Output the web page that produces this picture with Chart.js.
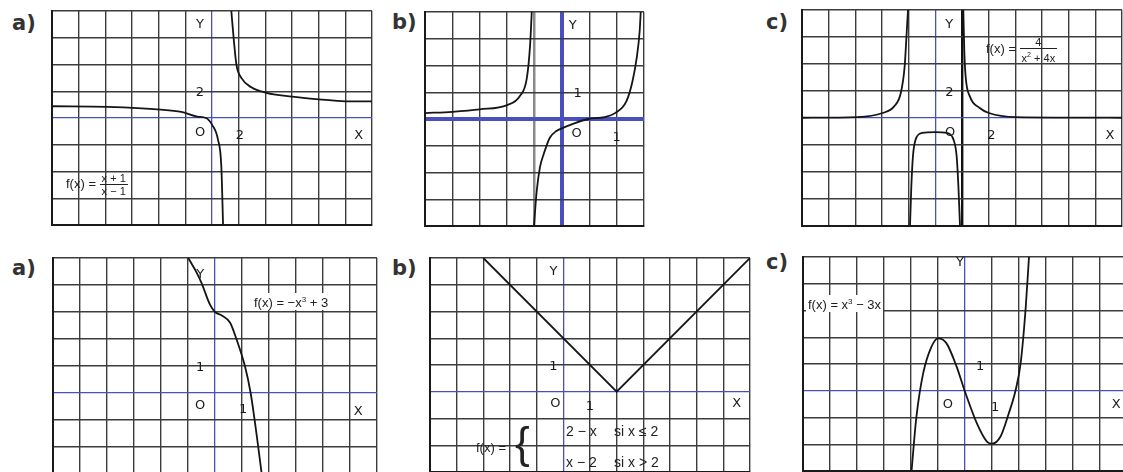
<!DOCTYPE html>
<html>
<head>
<meta charset="utf-8">
<script src="https://cdn.jsdelivr.net/npm/chart.js@4.4.1/dist/chart.umd.min.js"></script>
<style>
  html, body { margin: 0; padding: 0; background: #fff; }
  body { width: 1123px; height: 472px; overflow: hidden; position: relative; }
  canvas { position: absolute; }
  .tag { position: absolute; font-family: 'DejaVu Sans', sans-serif; font-size: 21px; font-weight: bold; color: #333; line-height: 21px; }
  .fx { position: absolute; font-family: 'Liberation Sans', sans-serif; font-size: 12px; color: #222; white-space: nowrap; line-height: 14px; }
  .bg { background: #fff; padding: 0 2px; }
  .frac { display: inline-block; vertical-align: middle; text-align: center; font-size: 11px; line-height: 12px; }
  .frac span { display: block; padding: 0 2px; }
  .frac .num { border-bottom: 1px solid #222; }
</style>
</head>
<body>
<div class="tag" style="left:12px; top:13px;">a)</div>
<div class="tag" style="left:392px; top:12px;">b)</div>
<div class="tag" style="left:766px; top:12px;">c)</div>
<div class="tag" style="left:12px; top:258px;">a)</div>
<div class="tag" style="left:392px; top:258px;">b)</div>
<div class="tag" style="left:766px; top:252px;">c)</div>

<script>
// ---- top a) f(x) = (x+1)/(x-1) ----
const taXAxis = [-12, 12, 2];
const taYAxis = [-8, 8, 2];
const taLeftX  = [-12, -7.85, -3.85, -2.3, -1.1, -0.45, 0, 0.45, 0.7, 0.83];
const taLeftY  = [0.88, 0.83, 0.63, 0.45, 0.1, 0, -0.5, -1.63, -3.63, -8];
const taRightX = [1.45, 1.63, 1.83, 2.2, 2.95, 4, 6, 8, 10, 12];
const taRightY = [8, 5.9, 4.0, 3.0, 2.3, 1.9, 1.6, 1.4, 1.25, 1.25];

// ---- top b) ----
const tbXAxis = [-2.5, 1.5, 0.5];
const tbYAxis = [-4, 4, 1];
const tbLeftX = [-2.5, -2, -1.5, -1, -0.77, -0.64, -0.58, -0.55];
const tbLeftY = [0.22, 0.27, 0.36, 0.52, 0.85, 1.53, 2.77, 4];
const tbMidX  = [-0.51, -0.46, -0.4, -0.33, -0.22, -0.1, 0.02, 0.18, 0.48, 0.78, 0.97, 1.18, 1.29, 1.37, 1.42, 1.44];
const tbMidY  = [-4, -2.7, -1.8, -1.3, -0.7, -0.45, -0.33, -0.2, 0, 0.07, 0.22, 0.67, 1.41, 2.33, 3.26, 4];

// ---- top c) f(x) = 4/(x^2+4x) ----
const tcXAxis = [-10, 14, 2];
const tcYAxis = [-8, 8, 2];
const tcLeftX  = [-10, -5.85, -3.95, -3.09, -2.59, -2.3, -2.15, -2.05];
const tcLeftY  = [0.02, 0.07, 0.37, 0.86, 1.85, 3.83, 6.3, 8];
const tcMidX   = [-1.9, -1.8, -1.68, -1.48, -0.99, 0, 0.86, 1.36, 1.6, 1.73, 1.85];
const tcMidY   = [-8, -5.06, -2.84, -1.6, -1.11, -1.04, -1.11, -1.6, -2.84, -5.06, -8];
const tcRightX = [2.1, 2.17, 2.27, 2.59, 3.33, 4.02, 6.05, 14];
const tcRightY = [8, 5.06, 3.09, 1.6, 0.74, 0.37, 0.07, 0.02];

// ---- bottom a) f(x) = -x^3 + 3 ----
const baXAxis = [-6, 6, 1];
const baYAxis = [-3, 5, 1];
const baX = [-0.99, -0.68, -0.5, -0.19, 0, 0.25, 0.56, 0.8, 1.11, 1.32, 1.55, 1.73];
const baY = [5.0, 4.46, 4.08, 3.28, 3.0, 2.87, 2.6, 1.98, 0.99, 0, -1.61, -3.0];

// ---- bottom b) f(x) = |x - 2| ----
const bbXAxis = [-5, 7, 1];
const bbYAxis = [-3, 5, 1];
const bbX = [-3, 2, 7];
const bbY = [5, 0, 5];

// ---- bottom c) f(x) = x^3 - 3x ----
const bcXAxis = [-6, 6, 1];
const bcYAxis = [-3, 5, 1];
const bcX = [-1.98, -1.8, -1.55, -1.24, -1, -0.69, -0.31, 0, 0.44, 0.81, 1, 1.31, 1.62, 1.87, 2.06, 2.25, 2.37];
const bcY = [-3.0, -0.98, 0.65, 1.65, 1.96, 1.78, 0.9, -0.04, -1.22, -1.9, -1.98, -1.72, -0.85, 0, 1.02, 3.13, 5.0];

const GRID = '#3c3c3c';
const BLUE = '#4a4fbf';
const INK = '#151515';
const PAD = 3;

// text next to the axes, placed in data units
const axisLabels = {
    id: 'axisLabels',
    afterDatasetsDraw(chart, args, opts) {
        const ctx = chart.ctx;
        const sx = chart.scales.x, sy = chart.scales.y;
        ctx.save();
        ctx.font = '13px "DejaVu Sans"';
        ctx.fillStyle = '#1a1a1a';
        ctx.textAlign = 'center';
        ctx.textBaseline = 'middle';
        (opts.items || []).forEach(it => {
            ctx.fillText(it[0], sx.getPixelForValue(it[1]), sy.getPixelForValue(it[2]));
        });
        ctx.restore();
    }
};

function gridFor(axisWidth, extra) {
    return {
        drawTicks: false,
        color: c => {
            const v = c.tick ? c.tick.value : null;
            if (v === 0) return BLUE;
            if (extra && extra[v]) return extra[v][0];
            return GRID;
        },
        lineWidth: c => {
            const v = c.tick ? c.tick.value : null;
            if (v === 0) return axisWidth;
            if (extra && extra[v]) return extra[v][1];
            return 1.4;
        }
    };
}

function makeAxis(range, axisWidth, extra) {
    return {
        type: 'linear',
        min: range[0],
        max: range[1],
        ticks: { display: false, stepSize: range[2], maxTicksLimit: 100 },
        grid: gridFor(axisWidth, extra),
        border: { display: true, color: '#1a1a1a', width: 2 }
    };
}

const panels = [
    { box: [52, 11, 320, 214], x: taXAxis, y: taYAxis, axisWidth: 1.3,
      series: [[taLeftX, taLeftY], [taRightX, taRightY]],
      labels: [['Y', -0.9, 7.0], ['2', -0.9, 1.9], ['O', -0.9, -1.1], ['2', 2.1, -1.3], ['X', 11, -1.3]] },
    { box: [425, 12, 219, 214], x: tbXAxis, y: tbYAxis, axisWidth: 4, xExtra: { '-0.5': ['#8a8a8a', 2.5] },
      series: [[tbLeftX, tbLeftY], [tbMidX, tbMidY]],
      labels: [['Y', 0.2, 3.5], ['1', 0.29, 0.93], ['O', 0.27, -0.55], ['1', 1.0, -0.7]] },
    { box: [802, 10, 320, 216], x: tcXAxis, y: tcYAxis, axisWidth: 1.3, xExtra: { '2': ['#111', 2.4] },
      series: [[tcLeftX, tcLeftY], [tcMidX, tcMidY], [tcRightX, tcRightY]],
      labels: [['Y', 1.05, 6.9], ['2', 1.05, 1.87], ['O', 1.1, -1.1], ['2', 4.2, -1.3], ['X', 13.1, -1.3]] },
    { box: [53, 258, 324, 216], x: baXAxis, y: baYAxis, axisWidth: 1.3,
      series: [[baX, baY]],
      labels: [['Y', -0.55, 4.37], ['1', -0.55, 0.93], ['O', -0.55, -0.45], ['1', 1.04, -0.63], ['X', 5.3, -0.7]] },
    { box: [430, 258, 320, 214], x: bbXAxis, y: bbYAxis, axisWidth: 1.3, straight: true,
      series: [[bbX, bbY]],
      labels: [['Y', -0.37, 4.5], ['1', -0.37, 0.94], ['O', -0.3, -0.45], ['1', 1.0, -0.56], ['X', 6.5, -0.45]] },
    { box: [803, 257, 324, 214], x: bcXAxis, y: bcYAxis, axisWidth: 1.3,
      series: [[bcX, bcY]],
      labels: [['Y', -0.19, 4.78], ['1', 0.56, 0.9], ['O', -0.63, -0.52], ['1', 1.12, -0.63], ['X', 5.6, -0.52]] }
];

panels.forEach(p => {
    const cv = document.createElement('canvas');
    cv.width = p.box[2] + 2 * PAD;
    cv.height = p.box[3] + 2 * PAD;
    cv.style.left = (p.box[0] - PAD) + 'px';
    cv.style.top = (p.box[1] - PAD) + 'px';
    document.body.appendChild(cv);

    const datasets = p.series.map(s => ({
        data: s[0].map((v, i) => ({ x: v, y: s[1][i] })),
        showLine: true,
        borderColor: INK,
        borderWidth: 1.8,
        pointRadius: 0,
        tension: p.straight ? 0 : 0.4,
        cubicInterpolationMode: p.straight ? 'default' : 'monotone'
    }));

    new Chart(cv, {
        type: 'scatter',
        data: { datasets: datasets },
        options: {
            responsive: false,
            animation: false,
            events: [],
            layout: { padding: PAD },
            scales: {
                x: makeAxis(p.x, p.axisWidth, p.xExtra),
                y: makeAxis(p.y, p.axisWidth, p.yExtra)
            },
            plugins: {
                legend: { display: false },
                tooltip: { enabled: false },
                axisLabels: { items: p.labels }
            }
        },
        plugins: [axisLabels]
    });
});
</script>

<div class="fx" style="left:66px; top:172px; font-size:13px;">f(x) = <span class="frac"><span class="num">x + 1</span><span>x − 1</span></span></div>
<div class="fx" style="left:986px; top:36px; font-size:13px;">f(x) = <span class="frac"><span class="num">4</span><span>x<sup style="font-size:7px">2</sup> + 4x</span></span></div>
<div class="fx bg" style="left:252px; top:293px; font-size:13px;">f(x) = −x<sup style="font-size:8px">3</sup> + 3</div>
<div class="fx bg" style="left:806px; top:295px; font-size:13px;">f(x) = x<sup style="font-size:8px">3</sup> − 3x</div>

<div class="fx" style="left:476px; top:441px; font-size:13px;">f(x) =</div>
<div class="fx" style="left:515px; top:418px; font-size:44px; line-height:50px; font-weight:200;">{</div>
<div class="fx" style="left:566px; top:424px; font-size:14px;">2 − x</div>
<div class="fx" style="left:614px; top:424px; font-size:14px;">si x ≤ 2</div>
<div class="fx" style="left:566px; top:455px; font-size:14px;">x − 2</div>
<div class="fx" style="left:614px; top:455px; font-size:14px;">si x &gt; 2</div>
</body>
</html>
